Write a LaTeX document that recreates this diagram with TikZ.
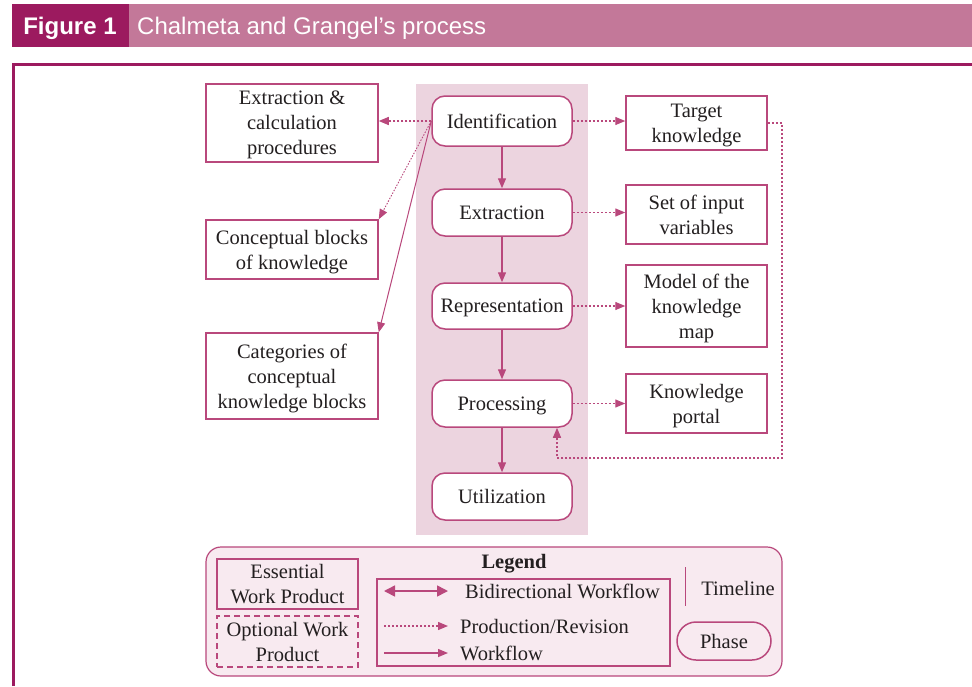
\documentclass[tikz,border=0pt]{standalone}
\usepackage{fontspec}
\setmainfont{Liberation Serif}
\newfontfamily\hdfont{Liberation Sans}
\usetikzlibrary{arrows.meta}
\definecolor{hdark}{HTML}{9C1A5F}
\definecolor{hlight}{HTML}{C37899}
\definecolor{edge}{HTML}{B9487C}
\definecolor{band}{HTML}{ECD4DF}
\definecolor{legfill}{HTML}{F8EAF0}
\definecolor{ink}{HTML}{231F20}
\begin{document}
\begin{tikzpicture}[x=1pt,y=-1pt,
  every node/.style={text=ink, font=\fontsize{20.5}{25}\selectfont, align=center,
    inner sep=0pt, text depth=0pt},
  wp/.style={draw=edge, line width=1.5pt, fill=white},
  phase/.style={draw=edge, line width=1.5pt, fill=white, rounded corners=13pt,
    minimum width=140pt},
  tip/.style={-{Triangle[length=10pt,width=8pt]}},
  flow/.style={tip, draw=edge, line width=1.4pt},
  prod/.style={tip, draw=edge, line width=1.3pt, dash pattern=on 2pt off 2pt},
  prodthin/.style={tip, draw=edge, line width=0.9pt, dash pattern=on 1.5pt off 1.5pt},
  thinflow/.style={tip, draw=edge, line width=1pt},
]
\useasboundingbox (0,0) rectangle (972,686);
\fill[white] (0,0) rectangle (972,686);

% title bar
\fill[hlight] (12,4) rectangle (972,47);
\fill[hdark] (12,4) rectangle (129,47);
\node[text=white, font=\hdfont\bfseries\fontsize{24}{28}\selectfont, anchor=base, text depth=] (fignum) at (70,34) {Figure 1};
\node[text=white, font=\hdfont\fontsize{24}{28}\selectfont, anchor=base west, text depth=] (title) at (137,34) {Chalmeta and Grangel’s process};

% frame
\draw[hdark, line width=3pt] (13.5,686) -- (13.5,64.5) -- (972,64.5);

% phase band
\fill[band] (416,84) rectangle (588,535);

% phases
\node[phase, minimum height=50pt] (ident) at (502,121) {Identification};
\node[phase, minimum height=47pt] (extr) at (502,212.5) {Extraction};
\node[phase, minimum height=46pt] (repr) at (502,306) {Representation};
\node[phase, minimum height=47pt] (proc) at (502,403.5) {Processing};
\node[phase, minimum height=47pt] (util) at (502,496.5) {Utilization};

% work products, left
\node[wp, minimum width=172pt, minimum height=78pt] (ecp) at (292,123) {Extraction \&\\calculation\\procedures};
\node[wp, minimum width=172pt, minimum height=59pt] (cbk) at (292,249.5) {Conceptual blocks\\of knowledge};
\node[wp, minimum width=172pt, minimum height=86pt] (cat) at (292,376) {Categories of\\conceptual\\knowledge blocks};

% work products, right
\node[wp, minimum width=141pt, minimum height=54pt] (tk) at (696.5,123) {Target\\knowledge};
\node[wp, minimum width=141pt, minimum height=59pt] (siv) at (696.5,214.5) {Set of input\\variables};
\node[wp, minimum width=141pt, minimum height=82pt] (mkm) at (696.5,306) {Model of the\\knowledge\\map};
\node[wp, minimum width=141pt, minimum height=59pt] (kp) at (696.5,403.5) {Knowledge\\portal};

% workflow
\draw[flow] (ident) -- (extr);
\draw[flow] (extr) -- (repr);
\draw[flow] (repr) -- (proc);
\draw[flow] (proc) -- (util);

% production / revision
\draw[prod] (ident.west) -- (ecp.east |- ident.west);
\draw[prodthin] (ident.west) -- (cbk.north east);
\draw[thinflow] (ident.west) -- (cat.north east);
\draw[prod] (ident.east) -- (tk.west |- ident.east);
\draw[prod] (extr.east) -- (siv.west |- extr.east);
\draw[prod] (repr.east) -- (mkm.west |- repr.east);
\draw[prod] (proc.east) -- (kp.west |- proc.east);
\coordinate (fbc) at (782,458);
\draw[prod] (tk.east) -| (fbc) -| ([xshift=55pt]proc.south);

% legend
\node[draw=edge, line width=1.2pt, fill=legfill, rounded corners=15pt,
  minimum width=576pt, minimum height=129pt] (legend) at (494,611.5) {};
\node[font=\bfseries\fontsize{20.5}{25}\selectfont] (legtitle) at (514,561) {Legend};
\node[wp, fill=none, minimum width=141pt, minimum height=50pt] (ess) at (287.5,584) {Essential\\Work Product};
\node[wp, fill=none, dash pattern=on 6pt off 4pt, minimum width=141pt, minimum height=51pt] (opt) at (287.5,641.5) {Optional Work\\Product};
\node[draw=edge, line width=1.5pt, minimum width=293pt, minimum height=87pt] (keys) at (523.5,622.5) {};
\coordinate (bia) at (384,591);
\coordinate (bib) at (448,591);
\coordinate (pra) at (384,626);
\coordinate (prb) at (448,626);
\coordinate (wfa) at (384,653);
\coordinate (wfb) at (448,653);
\draw[draw=edge, line width=1.6pt, {Triangle[length=11pt,width=11pt]}-{Triangle[length=11pt,width=11pt]}] (bia) -- (bib);
\draw[prod] (pra) -- (prb);
\draw[flow] (wfa) -- (wfb);
\node[anchor=west] (bitxt) at (465,591) {Bidirectional Workflow};
\node[anchor=west] (prtxt) at (460,626) {Production/Revision};
\node[anchor=west] (wftxt) at (460,653) {Workflow};
\coordinate (tla) at (685,567);
\coordinate (tlb) at (685,606);
\draw[edge, line width=1pt] (tla) -- (tlb);
\node (tltxt) at (738,588) {Timeline};
\node[draw=edge, line width=1.5pt, rounded corners=19pt, minimum width=94pt, minimum height=38pt] (ph) at (724,641) {Phase};
\end{tikzpicture}
\end{document}
